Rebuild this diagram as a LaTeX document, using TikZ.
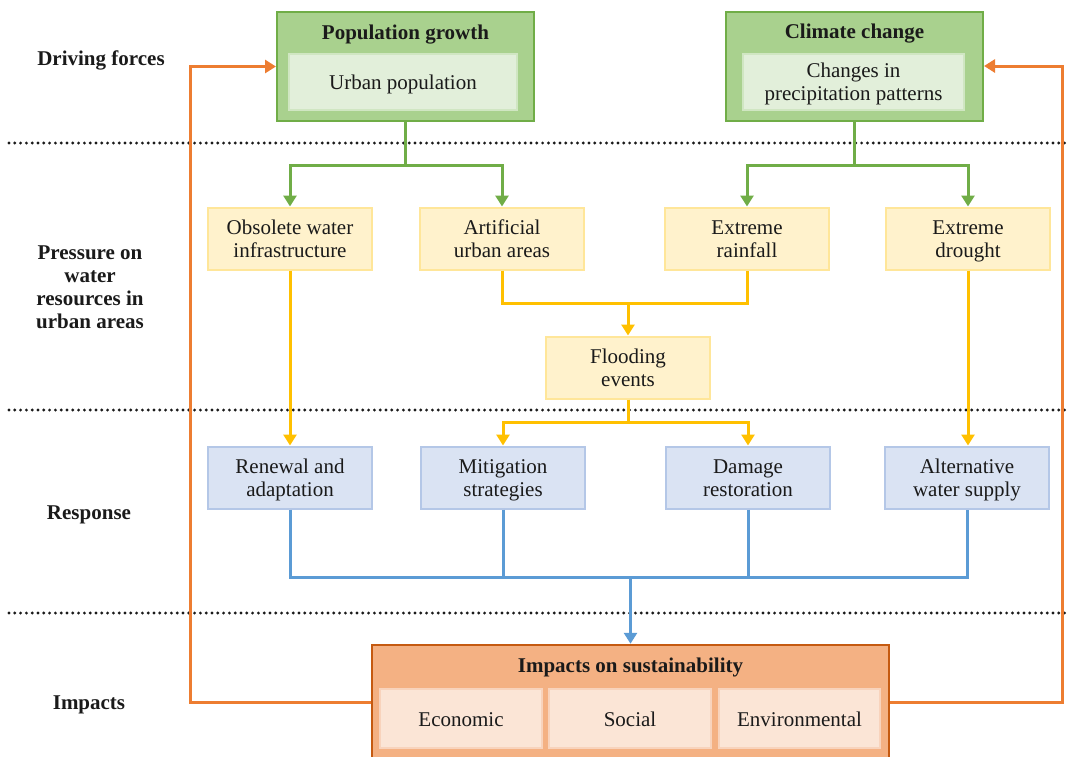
\documentclass[tikz,border=0pt]{standalone}
\usepackage{fontspec}
\setmainfont{Liberation Serif}
\usetikzlibrary{arrows.meta}

\definecolor{gfill}{HTML}{A9D18E}
\definecolor{gdraw}{HTML}{70AD47}
\definecolor{gin}{HTML}{E2EFDA}
\definecolor{ginl}{HTML}{D0E6C2}
\definecolor{yfill}{HTML}{FFF2CC}
\definecolor{ydraw}{HTML}{FFE699}
\definecolor{yline}{HTML}{FFC000}
\definecolor{bfill}{HTML}{DAE3F3}
\definecolor{bdraw}{HTML}{B4C7E7}
\definecolor{bline}{HTML}{5B9BD5}
\definecolor{oline}{HTML}{ED7D31}
\definecolor{ofill}{HTML}{F4B183}
\definecolor{odraw}{HTML}{C55A11}
\definecolor{oin}{HTML}{FBE5D6}
\definecolor{oinl}{HTML}{F8D3BC}
\definecolor{ink}{HTML}{1A1A1A}

% invisible struts: \ms gives the first line 20pt above its baseline,
% \me gives the last line 5pt below it, so every label sits alike
\newcommand{\ms}{\rule{0pt}{20pt}}
\newcommand{\me}{\rule[-5pt]{0pt}{5pt}}

\tikzset{
  txt/.style={font=\fontsize{21}{23}\selectfont, text=ink, align=center, inner sep=0pt},
  btxt/.style={txt, font=\fontsize{21}{23}\selectfont\bfseries},
  outerg/.style={draw=gdraw, fill=gfill, line width=2pt, minimum width=257pt, minimum height=109pt},
  innerg/.style={txt, draw=ginl, fill=gin, line width=2pt, minimum height=56pt},
  ybox/.style={txt, draw=ydraw, fill=yfill, line width=2pt, minimum width=164pt, minimum height=62pt},
  bbox/.style={txt, draw=bdraw, fill=bfill, line width=2pt, minimum width=164pt, minimum height=62pt},
  obox/.style={draw=odraw, fill=ofill, line width=2.5pt, minimum width=517pt, minimum height=115pt},
  oinner/.style={txt, draw=oinl, fill=oin, line width=1.5pt, minimum height=59pt},
  sep/.style={draw=ink, line width=3.2pt, line cap=round, dash pattern=on 0pt off 5.8pt},
  tip/.style={-{Triangle[width=13pt,length=11pt]}},
  gl/.style={draw=gdraw, line width=3pt},
  yl/.style={draw=yline, line width=3pt},
  bl/.style={draw=bline, line width=3pt},
  ol/.style={draw=oline, line width=3pt},
}

\begin{document}
\begin{tikzpicture}[x=1pt, y=-1pt]
\useasboundingbox (0,0) rectangle (1068,756);
\begin{scope}
\clip (0,0) rectangle (1068,756);

% row separators
\draw[sep] (9,143) -- (1066,143);
\draw[sep] (9,410) -- (1066,410);
\draw[sep] (9,613) -- (1066,613);

% row titles
\node[btxt] (lab1) at (101,58) {\ms Driving forces\me};
\node[btxt] (lab2) at (90,286.5) {\ms Pressure on\\water\\resources in\\urban areas\me};
\node[btxt] (lab3) at (89,512) {\ms Response\me};
\node[btxt] (lab4) at (89,702) {\ms Impacts\me};

% driving forces
\node[outerg] (pop) at (405.5,66.5) {};
\node[btxt] (popt) at (405.5,31.5) {\ms Population growth\me};
\node[innerg, minimum width=228pt] (popi) at (403,81.5) {\ms Urban population\me};

\node[outerg] (clim) at (854.5,66) {};
\node[btxt] (climt) at (854.5,31) {\ms Climate change\me};
\node[innerg, minimum width=221pt] (climi) at (853.5,81.5) {\ms Changes in\\precipitation patterns\me};

% pressures
\node[ybox] (obs)  at (290,238.5)   {\ms Obsolete water\\infrastructure\me};
\node[ybox] (art)  at (502,238.5)   {\ms Artificial\\urban areas\me};
\node[ybox] (rain) at (747,238.5)   {\ms Extreme\\rainfall\me};
\node[ybox] (dry)  at (968,238.5)   {\ms Extreme\\drought\me};
\node[ybox] (flood) at (628,367.5)  {\ms Flooding\\events\me};

% responses
\node[bbox] (ren) at (290,477.5) {\ms Renewal and\\adaptation\me};
\node[bbox] (mit) at (503,477.5) {\ms Mitigation\\strategies\me};
\node[bbox] (dam) at (748,477.5) {\ms Damage\\restoration\me};
\node[bbox] (alt) at (967,477.5) {\ms Alternative\\water supply\me};

% impacts
\node[obox] (imp) at (630.5,702.5) {};
\node[btxt] (impt) at (630.5,665) {\ms Impacts on sustainability\me};
\node[oinner, minimum width=162pt] (eco) at (461,718.5) {\ms Economic\me};
\node[oinner, minimum width=162pt] (soc) at (630,718.5) {\ms Social\me};
\node[oinner, minimum width=161pt] (env) at (799.5,718.5) {\ms Environmental\me};

% junction points
\coordinate (gj1) at (405.5,165);
\coordinate (gj2) at (854.5,165);
\coordinate (yj1) at (628,303);
\coordinate (yj2) at (628,422);
\coordinate (bj)  at (630.5,577);
\coordinate (oL)  at (190,66.5);
\coordinate (oR)  at (1062.5,66);

% drivers -> pressures
\draw[gl] (pop.south) -- (gj1);
\draw[gl, tip] (gj1) -| (obs.north);
\draw[gl, tip] (gj1) -| (art.north);
\draw[gl] (clim.south) -- (gj2);
\draw[gl, tip] (gj2) -| (rain.north);
\draw[gl, tip] (gj2) -| (dry.north);

% pressures -> flooding -> responses
\draw[yl] (art.south) |- (yj1) -| (rain.south);
\draw[yl, tip] (yj1) -- (flood.north);
\draw[yl] (flood.south) -- (yj2);
\draw[yl, tip] (yj2) -| (mit.north);
\draw[yl, tip] (yj2) -| (dam.north);
\draw[yl, tip] (obs.south) -- (ren.north);
\draw[yl, tip] (dry.south) -- (dry.south |- alt.north);

% responses -> impacts
\draw[bl] (ren.south) |- (bj) -| (alt.south);
\draw[bl] (mit.south) -- (mit.south |- bj);
\draw[bl] (dam.south) -- (dam.south |- bj);
\draw[bl, tip] (bj) -- (imp.north);

% feedback loops
\draw[ol, tip] (imp.west) -| (oL) -- (pop.west);
\draw[ol, tip] (imp.east) -| (oR) -- (clim.east);
\end{scope}
\end{tikzpicture}
\end{document}
